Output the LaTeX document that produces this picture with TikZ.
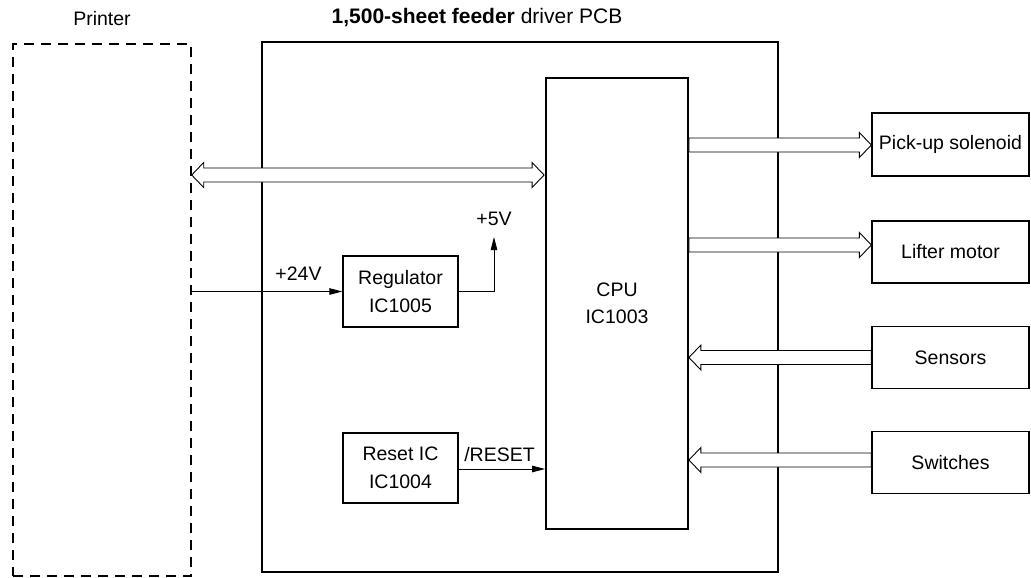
\documentclass[tikz,border=0pt]{standalone}
\usepackage{fontspec}
\setmainfont{Liberation Sans}
\usetikzlibrary{arrows.meta,calc}
\newcommand\hollowarrow[3]{%
  \path[hollow] let \p1=(#1), \p2=(#2) in
    (\x1,{\y2+7pt}) -- ({\x2-(#3)*12pt},{\y2+7pt}) -- ({\x2-(#3)*12pt},{\y2+12.5pt})
    -- (\x2,\y2) -- ({\x2-(#3)*12pt},{\y2-12.5pt}) -- ({\x2-(#3)*12pt},{\y2-7pt})
    -- (\x1,{\y2-7pt}) -- cycle;}
\begin{document}
\begin{tikzpicture}[x=1pt,y=-1pt,
  every node/.style={font=\fontsize{19.5}{27.5}\selectfont, inner sep=0pt},
  box/.style={draw, line width=1.3pt, align=center},
  big/.style={draw, line width=1.8pt},
  hollow/.style={draw, fill=white, line width=0.9pt, line join=miter},
  sig/.style={line width=0.9pt, -{Triangle[length=13pt,width=6.5pt]}},
  dashedbox/.style={draw, line width=1.4pt, dash pattern=on 10pt off 7pt}]
\useasboundingbox (0,0) rectangle (1031,578);
% frames
\node[dashedbox, minimum width=178pt, minimum height=532pt] (printer) at (102,310) {};
\node (printerlbl) at (102,19) {Printer};
\node[big, minimum width=516pt, minimum height=530pt] (pcb) at (520,307) {};
\node (title) at (477,18) {\fontsize{21}{25}\selectfont\textbf{1,500-sheet feeder} driver PCB};
\node[big, minimum width=142pt, minimum height=451pt, align=center] (cpu) at (617,303.5) {CPU\\IC1003};
\node[box, minimum width=115pt, minimum height=71pt] (reg) at (400.5,291.5) {Regulator\\IC1005};
\node[box, minimum width=115pt, minimum height=70pt] (reset) at (400.5,468) {Reset IC\\IC1004};
% right boxes
\node[box, minimum width=157pt, minimum height=63pt] (pick) at (950.5,144.5) {Pick-up solenoid};
\node[box, minimum width=157pt, minimum height=62pt] (lift) at (950.5,252) {Lifter motor};
\node[box, minimum width=157pt, minimum height=62pt] (sens) at (950.5,357.5) {Sensors};
\node[box, minimum width=157pt, minimum height=62pt] (sw) at (950.5,462.5) {Switches};
% double arrow printer <-> CPU
\coordinate (dl) at (printer.east |- 0,175);
\coordinate (dr) at ([xshift=-1pt]cpu.west |- dl);
\path[hollow] let \p1=(dl), \p2=(dr) in
  (\x1,\y1) -- ({\x1+12pt},{\y1+12.5pt}) -- ({\x1+12pt},{\y1+7pt}) -- ({\x2-12pt},{\y1+7pt})
  -- ({\x2-12pt},{\y1+12.5pt}) -- (\x2,\y1) -- ({\x2-12pt},{\y1-12.5pt}) -- ({\x2-12pt},{\y1-7pt})
  -- ({\x1+12pt},{\y1-7pt}) -- ({\x1+12pt},{\y1-12.5pt}) -- cycle;
% outputs
\coordinate (pa) at (cpu.east |- 0,145);
\coordinate (pb) at (pick.west |- pa);
\hollowarrow{pa}{pb}{1}
\coordinate (la) at (cpu.east |- 0,245);
\coordinate (lb) at (lift.west |- la);
\hollowarrow{la}{lb}{1}
% inputs
\coordinate (sa) at (sens.west |- 0,357.5);
\coordinate (sb) at (cpu.east |- sa);
\hollowarrow{sa}{sb}{-1}
\coordinate (wa) at (sw.west |- 0,460);
\coordinate (wb) at (cpu.east |- wa);
\hollowarrow{wa}{wb}{-1}
% power
\coordinate (p24) at (printer.east |- reg.west);
\draw[sig] (p24) -- (reg.west);
\node (l24) at (298.5,274) {+24V};
\coordinate (p5) at (494,237);
\draw[sig] (reg.east) -| (p5);
\node (l5) at (494,219) {+5V};
% reset
\draw[sig] (reset.east |- 0,469) coordinate (ra) -- (cpu.west |- ra);
\node (lreset) at (499.5,455) {/RESET};
\end{tikzpicture}
\end{document}
